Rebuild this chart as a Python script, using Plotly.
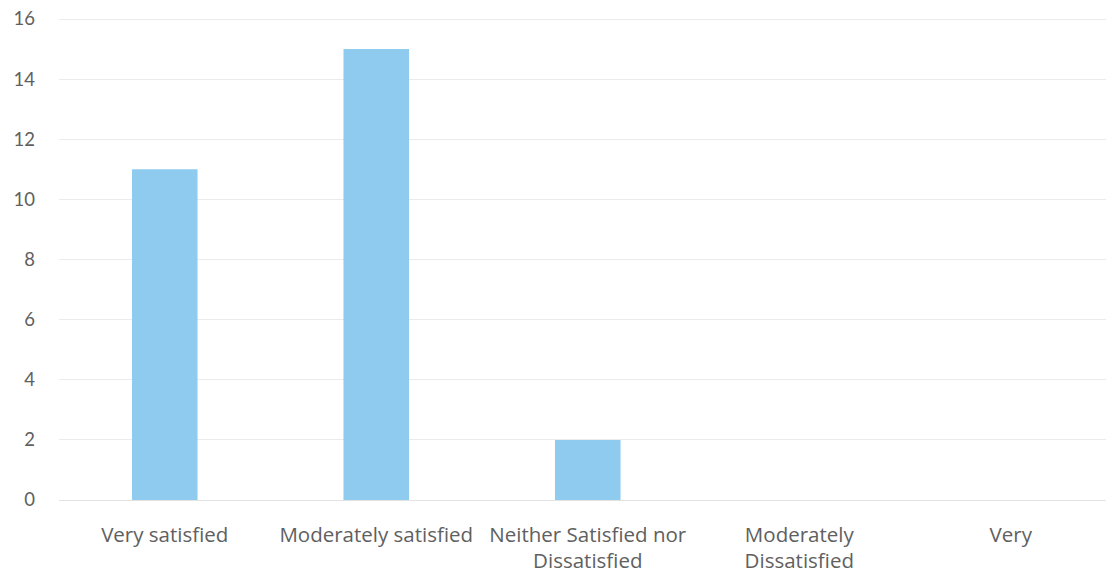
import plotly.graph_objects as go

categories = ["Very satisfied", "Moderately satisfied", "Neither Satisfied nor<br>Dissatisfied",
              "Moderately<br>Dissatisfied", "Very"]
values = [11, 15, 2, 0, 0]
y_ticks = [0, 2, 4, 6, 8, 10, 12, 14, 16]

fig = go.Figure(go.Bar(x=categories, y=values, marker=dict(color="#8fcbee", line=dict(width=0))))

font = dict(family="Open Sans, Lato, sans-serif", size=20.5, color="#606060")
yfont = dict(family="Lato, Open Sans, sans-serif", size=18.5, color="#606060")
fig.update_layout(
    width=1106, height=566,
    margin=dict(l=51, r=0, t=8, b=74),
    paper_bgcolor="white", plot_bgcolor="white",
    bargap=0.69,
    showlegend=False,
    font=font,
)
fig.update_xaxes(
    range=[-0.5, 4.488], showgrid=False, showline=False, zeroline=False,
    tickfont=font, ticklabelstandoff=20, ticks="", automargin=False,
)
fig.update_yaxes(
    range=[0, 16.1], tickvals=y_ticks, showgrid=True, gridcolor="#ebebeb", gridwidth=1,
    zeroline=True, zerolinecolor="#e3e3e3", zerolinewidth=1, showline=False,
    tickfont=yfont, ticklabelstandoff=23, ticks="", automargin=False,
    ticklabeloverflow="allow",
)
fig.write_html("out.html")
